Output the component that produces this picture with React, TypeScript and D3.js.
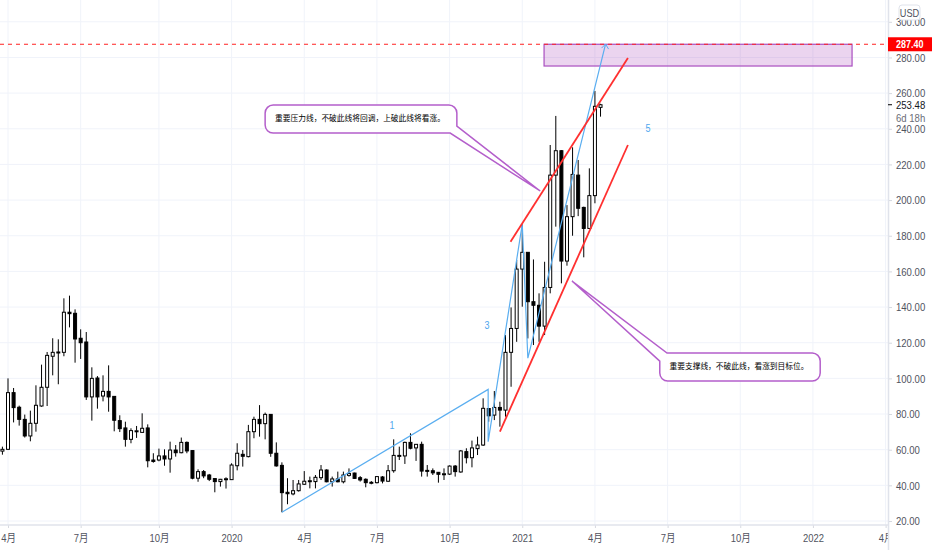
import { useEffect, useRef } from 'react';
import * as d3 from 'd3';

const WIDTH = 932;
const HEIGHT = 550;
const AXIS_X = 888;
const AXIS_Y = 525;
const FIRST_BAR = -1;

// weekly bars, oldest first
const opens = [
  59.2, 60.2, 92, 83.8, 77, 67.7, 74.8, 84.5, 95, 112.4, 114.6, 114.6, 137.1, 136.5, 122.5, 120.4, 89.6, 100.2,
  90.1, 92.7, 89.9, 76.3, 72.2, 65.8, 70.3, 69.7, 72.2, 54.2, 54.2, 56.5, 54.8, 59.8, 58.3, 64.1, 59.5, 44,
  47.7, 45.8, 43.8, 42.1, 43.5, 43.2, 51, 57.4, 56.1, 70.1, 77, 74.6, 79.8, 58, 51.2, 36.1, 35.2, 37,
  40.6, 42.4, 42.1, 44.3, 48.6, 42, 43.6, 42, 45.6, 46.9, 44.3, 43.4, 41.5, 41.5, 44.7, 42.3, 48.2, 56.5,
  56.5, 64.1, 61, 63, 48.4, 48.2, 47.3, 46.2, 46.3, 50.8, 47.5, 58.9, 55.5, 60.6, 62.6, 83.1, 79.4, 83.7,
  82.2, 114.6, 128, 161.3, 170.7, 143, 141, 129.3, 151, 214, 227.7, 165.8, 190.7, 214, 195.9, 184.1, 202.5, 252,
];
const highs = [
  61.7, 100, 94.6, 84.7, 79.7, 81.9, 96.1, 107.7, 114.8, 122.5, 121.9, 144.9, 146.4, 138.7, 127.5, 126, 106.2, 101.3,
  101.7, 107.3, 90, 79.3, 75.7, 72, 73.3, 80.4, 74.2, 58, 60.6, 60.2, 64.5, 62.6, 66.8, 64.6, 59.6, 49,
  48.6, 46.4, 43.8, 43.6, 44.5, 52.4, 63.6, 59.8, 73.9, 78.5, 85, 80.8, 80, 64.1, 52.9, 44, 43, 43,
  48, 44.9, 45.8, 51.4, 49, 44.9, 47.7, 47.7, 49.5, 47.1, 45.2, 43.9, 42.4, 45.2, 45.2, 51.4, 65.8, 61.7,
  64.5, 69.2, 63.2, 64.5, 51.4, 49.5, 47.5, 49.5, 51.2, 51.4, 59.8, 60.8, 65.1, 67.3, 88.8, 83.2, 92.9, 86.9,
  124.3, 139.8, 166.4, 186.5, 170.7, 166.7, 147.7, 165.4, 230.9, 247.2, 228, 197.2, 229.6, 222.5, 196.3, 217.8, 261.2, 254,
];
const lows = [
  57.2, 59.8, 75.3, 73.5, 66.8, 64.7, 70.1, 84.1, 84.5, 101.7, 96.7, 112.4, 128.6, 108.8, 110.9, 87.9, 76.3, 83,
  87.1, 81.3, 70.3, 69.9, 61.7, 63.6, 66.6, 69.5, 50.1, 52.7, 53.5, 51, 47.1, 56.1, 58, 58, 43.4, 42,
  44, 42.4, 36.1, 39.3, 38.2, 43, 48.4, 50.5, 55.7, 66.4, 67.3, 65.8, 56, 50.5, 24.9, 29.4, 34.4, 36.5,
  40.2, 38.3, 38.3, 43, 41.7, 39.3, 41.7, 41.1, 44.9, 43.6, 42.1, 38.9, 40.6, 41.1, 41.1, 41.9, 47.1, 54.2,
  52, 60.2, 53.7, 44.9, 44.9, 45.8, 41.5, 43, 45.8, 44.9, 47.1, 52.3, 50.1, 57, 62.1, 75.7, 76.6, 72.9,
  78.5, 95.3, 120.5, 140.2, 122.4, 118.7, 120.5, 124.3, 147.7, 185.1, 153.3, 163.2, 180, 191, 167.9, 183.8, 198.2, 246.8,
];
const closes = [
  60.2, 92, 83.6, 77, 67.7, 74.8, 84.9, 95, 112.9, 114.6, 114.8, 137.1, 136.3, 122.1, 120, 89.6, 100, 89.6,
  92.7, 89.6, 76.5, 71.8, 65.8, 70.7, 70.6, 72, 53.8, 53.4, 56.5, 54.8, 59.8, 58.3, 64.1, 59.3, 44, 47.7,
  45.3, 43.4, 42.1, 43.4, 43.7, 51.4, 58, 56.3, 70.1, 77, 74.6, 79.8, 58, 50.9, 35.9, 35.3, 37, 40.8,
  42.3, 42.6, 44.5, 48.6, 42, 43.6, 42, 45.8, 46.7, 43.9, 43, 41.5, 41.7, 44.9, 42.4, 48.2, 56.8, 56.8,
  64.1, 60.8, 63, 48, 48, 47, 46.2, 46.5, 50.8, 47.7, 59.3, 55.5, 61, 62.6, 83.2, 79, 83.7, 82.2,
  114.6, 128, 161.3, 170.7, 143, 141, 129.3, 151, 214, 227.7, 165.8, 190.7, 214.4, 195.4, 184.1, 202.5, 252.6, 253.48,
];

const priceTicks = [20, 40, 60, 80, 100, 120, 140, 160, 180, 200, 220, 240, 260, 280, 300];
const timeTickBars = [0, 13, 27, 40, 53, 66, 79, 92, 105, 118, 131, 144, 157];
const timeTickLabels = ['4月', '7月', '10月', '2020', '4月', '7月', '10月', '2021', '4月', '7月', '10月', '2022', '4月'];

const lastPrice = 253.48;
const countdown = '6d 18h';
const targetPrice = 287.4;

// drawings are [bar, price]
const wavePath: [number, number][] = [[49, 24.9], [85.9, 93.8], [85.9, 64.5], [92, 186.6], [93, 111.3], [106.9, 287.5]];
const supportLine: [number, number][] = [[88, 70.1], [110.9, 230.9]];
const resistanceLine: [number, number][] = [[89.9, 176.6], [110.9, 279.7]];
const targetZone = { bars: [95.9, 151], prices: [287.4, 275.2] };
const waveLabels: [string, number, number][] = [['1', 68.7, 73.3], ['3', 85.7, 129.4], ['5', 114.5, 239.9]];

const callouts = [
  {
    text: '重要压力线，不破此线将回调，上破此线将看涨。',
    bars: [46, 80.3],
    prices: [253.3, 237.6],
    tip: [95.2, 205.1],
    tailTop: 241.5,
    tailBottom: 79.1,
    side: 'right',
  },
  {
    text: '重要支撑线，不破此线，看涨到目标位。',
    bars: [116.6, 145.3],
    prices: [114.2, 98.5],
    tip: [100.9, 154.6],
    tailTop: 117.9,
    tailBottom: 109.7,
    side: 'left',
  },
];

const labelFont = '"Liberation Sans", "Noto Sans CJK SC", sans-serif';

const App = () => {
  const svgRef = useRef<SVGSVGElement>(null);

  useEffect(() => {
    if (!svgRef.current) return;
    const svg = d3.select(svgRef.current);
    svg.selectAll('*').remove();

    const x = d3.scaleLinear().domain([0, 157]).range([8, 885.6]);
    const y = d3.scaleLinear().domain([20, 300]).range([521, 21.8]);

    svg.append('rect').attr('width', WIDTH).attr('height', HEIGHT).attr('fill', '#fff');

    // grid
    const grid = svg.append('g').attr('stroke', '#f0f3fa').attr('stroke-width', 1);
    grid.selectAll('line.h').data(priceTicks).join('line').attr('class', 'h')
      .attr('x1', 0).attr('x2', AXIS_X).attr('y1', d => y(d)).attr('y2', d => y(d));
    grid.selectAll('line.v').data(timeTickBars).join('line').attr('class', 'v')
      .attr('x1', d => x(d)).attr('x2', d => x(d)).attr('y1', 0).attr('y2', AXIS_Y);

    // candles
    const candles = svg.append('g');
    const bars = opens.map((o, i) => ({ bar: FIRST_BAR + i, o, h: highs[i], l: lows[i], c: closes[i] }));
    candles.selectAll('line').data(bars).join('line')
      .attr('x1', d => x(d.bar)).attr('x2', d => x(d.bar))
      .attr('y1', d => y(d.h)).attr('y2', d => y(d.l))
      .attr('stroke', '#000');
    candles.selectAll('rect').data(bars).join('rect')
      .attr('x', d => x(d.bar) - 1.5)
      .attr('width', 3)
      .attr('y', d => y(Math.max(d.o, d.c)))
      .attr('height', d => Math.max(Math.abs(y(d.o) - y(d.c)), 1))
      .attr('fill', d => (d.c >= d.o ? '#fff' : '#000'))
      .attr('stroke', '#000');

    const line = d3.line<[number, number]>().x(d => x(d[0])).y(d => y(d[1]));

    // target zone
    svg.append('rect')
      .attr('x', x(targetZone.bars[0]))
      .attr('width', x(targetZone.bars[1]) - x(targetZone.bars[0]))
      .attr('y', y(targetZone.prices[0]))
      .attr('height', y(targetZone.prices[1]) - y(targetZone.prices[0]))
      .attr('fill', '#9c27b0').attr('fill-opacity', 0.2)
      .attr('stroke', '#a94fc0').attr('stroke-width', 1.2);

    // wave path and arrow head
    svg.append('path').attr('d', line(wavePath)).attr('fill', 'none').attr('stroke', '#5aaef0').attr('stroke-width', 1.2);
    const tipPoint = wavePath[wavePath.length - 1];
    const tx = x(tipPoint[0]);
    const ty = y(tipPoint[1]);
    svg.append('path').attr('d', `M${tx - 4},${ty + 4}L${tx},${ty}L${tx + 3},${ty + 5}`)
      .attr('fill', 'none').attr('stroke', '#5aaef0');

    svg.selectAll('path.trend').data([supportLine, resistanceLine]).join('path').attr('class', 'trend')
      .attr('d', d => line(d)).attr('fill', 'none').attr('stroke', '#ff3030').attr('stroke-width', 1.8);

    svg.selectAll('text.wave').data(waveLabels).join('text').attr('class', 'wave')
      .attr('x', d => x(d[1])).attr('y', d => y(d[2]))
      .attr('text-anchor', 'middle').attr('dominant-baseline', 'middle')
      .attr('fill', '#4ea6ee').style('font-family', labelFont).style('font-size', '11px')
      .attr('textLength', 5).attr('lengthAdjust', 'spacingAndGlyphs')
      .text(d => d[0]);

    // callouts
    callouts.forEach(c => {
      const l = x(c.bars[0]);
      const r = x(c.bars[1]);
      const t = y(c.prices[0]);
      const b = y(c.prices[1]);
      const rad = 8;
      const p = d3.path();
      if (c.side === 'right') {
        p.moveTo(l + rad, t);
        p.lineTo(r - rad, t);
        p.arcTo(r, t, r, t + rad, rad);
        p.lineTo(r, y(c.tailTop));
        p.lineTo(x(c.tip[0]), y(c.tip[1]));
        p.lineTo(x(c.tailBottom), b);
        p.lineTo(l + rad, b);
        p.arcTo(l, b, l, b - rad, rad);
        p.lineTo(l, t + rad);
        p.arcTo(l, t, l + rad, t, rad);
      } else {
        p.moveTo(x(c.tailTop), t);
        p.lineTo(r - rad, t);
        p.arcTo(r, t, r, t + rad, rad);
        p.lineTo(r, b - rad);
        p.arcTo(r, b, r - rad, b, rad);
        p.lineTo(l + rad, b);
        p.arcTo(l, b, l, b - rad, rad);
        p.lineTo(l, y(c.tailBottom));
        p.lineTo(x(c.tip[0]), y(c.tip[1]));
      }
      p.closePath();
      svg.append('path').attr('d', p.toString()).attr('fill', '#fff').attr('stroke', '#b45fcb').attr('stroke-width', 1.5);
      svg.append('text')
        .attr('x', (l + r) / 2 - 1).attr('y', (t + b) / 2)
        .attr('text-anchor', 'middle').attr('dominant-baseline', 'middle')
        .attr('fill', '#000')
        .attr('textLength', c.text.length * 7.72).attr('lengthAdjust', 'spacingAndGlyphs')
        .style('font-family', '"Noto Sans CJK SC", sans-serif').style('font-size', '8px')
        .text(c.text);
    });

    // target price line
    svg.append('line')
      .attr('x1', 0).attr('x2', AXIS_X).attr('y1', y(targetPrice)).attr('y2', y(targetPrice))
      .attr('stroke', '#ff2020').attr('stroke-dasharray', '4 4');

    // axes
    svg.append('rect').attr('x', AXIS_X).attr('width', WIDTH - AXIS_X).attr('height', HEIGHT).attr('fill', '#fff');
    svg.append('rect').attr('y', AXIS_Y).attr('width', AXIS_X).attr('height', HEIGHT - AXIS_Y).attr('fill', '#fff');

    const squeeze = (sel: any, factor: number) => {
      sel.each(function (this: SVGTextElement) {
        d3.select(this)
          .attr('textLength', this.getComputedTextLength() * factor)
          .attr('lengthAdjust', 'spacingAndGlyphs');
      });
    };

    const yAxis = svg.append('g').attr('transform', `translate(${AXIS_X},0)`)
      .call(d3.axisRight(y).tickValues(priceTicks).tickFormat(d3.format('.2f')).tickSize(4).tickPadding(4));
    yAxis.select('.domain').remove();
    yAxis.selectAll('line').attr('stroke', '#d6d9e0');
    yAxis.selectAll('text').attr('fill', '#50535e').style('font-family', labelFont).style('font-size', '11.5px');
    squeeze(yAxis.selectAll('text'), 0.83);

    svg.append('defs').append('clipPath').attr('id', 'time-clip')
      .append('rect').attr('width', AXIS_X).attr('height', HEIGHT);
    const xAxis = svg.append('g').attr('clip-path', 'url(#time-clip)').append('g').attr('transform', `translate(0,${AXIS_Y})`)
      .call(d3.axisBottom(x).tickValues(timeTickBars)
        .tickFormat((_, i) => timeTickLabels[i]).tickSize(3).tickPadding(6));
    xAxis.select('.domain').remove();
    xAxis.selectAll('line').attr('stroke', '#d6d9e0');
    xAxis.selectAll('text').attr('fill', '#50535e').style('font-family', labelFont).style('font-size', '11.5px');
    squeeze(xAxis.selectAll('text'), 0.82);

    svg.append('line').attr('x1', AXIS_X + 0.5).attr('x2', AXIS_X + 0.5).attr('y1', 0).attr('y2', HEIGHT)
      .attr('stroke', '#e0e3eb').attr('stroke-width', 1.5);
    svg.append('line').attr('x1', 0).attr('x2', AXIS_X).attr('y1', AXIS_Y).attr('y2', AXIS_Y)
      .attr('stroke', '#e0e3eb').attr('stroke-width', 1.5);

    // current price, countdown, target tag
    const yLast = y(lastPrice);
    svg.append('line').attr('x1', AXIS_X).attr('x2', AXIS_X + 4).attr('y1', yLast).attr('y2', yLast).attr('stroke', '#000');
    const lastText = svg.append('text').attr('x', AXIS_X + 8).attr('y', yLast).attr('dy', '0.35em')
      .attr('fill', '#131722').style('font-family', labelFont).style('font-size', '11.5px')
      .text(d3.format('.2f')(lastPrice));
    squeeze(lastText, 0.83);
    const countText = svg.append('text').attr('x', AXIS_X + 8).attr('y', yLast + 13).attr('dy', '0.35em')
      .attr('fill', '#6a6d78').style('font-family', labelFont).style('font-size', '11.5px')
      .text(countdown);
    squeeze(countText, 0.83);

    const yTarget = y(targetPrice);
    svg.append('rect').attr('x', AXIS_X).attr('y', yTarget - 7).attr('width', WIDTH - AXIS_X).attr('height', 14).attr('fill', '#ff0000');
    const tagText = svg.append('text').attr('x', AXIS_X + 8).attr('y', yTarget).attr('dy', '0.35em')
      .attr('fill', '#fff').style('font-family', labelFont).style('font-size', '11.5px').style('font-weight', 'bold')
      .text(d3.format('.2f')(targetPrice));
    squeeze(tagText, 0.78);

    // currency badge
    svg.append('rect').attr('x', 899).attr('y', 5).attr('width', 21).attr('height', 15).attr('rx', 3)
      .attr('fill', '#fff').attr('stroke', '#e0e3eb');
    const usd = svg.append('text').attr('x', 909.5).attr('y', 13).attr('dy', '0.35em').attr('text-anchor', 'middle')
      .attr('fill', '#50535e').style('font-family', labelFont).style('font-size', '11.5px').text('USD');
    squeeze(usd, 0.8);
  }, []);

  return <svg ref={svgRef} width={WIDTH} height={HEIGHT} style={{ position: 'absolute', left: 0, top: 0 }} />;
};

export default App;
